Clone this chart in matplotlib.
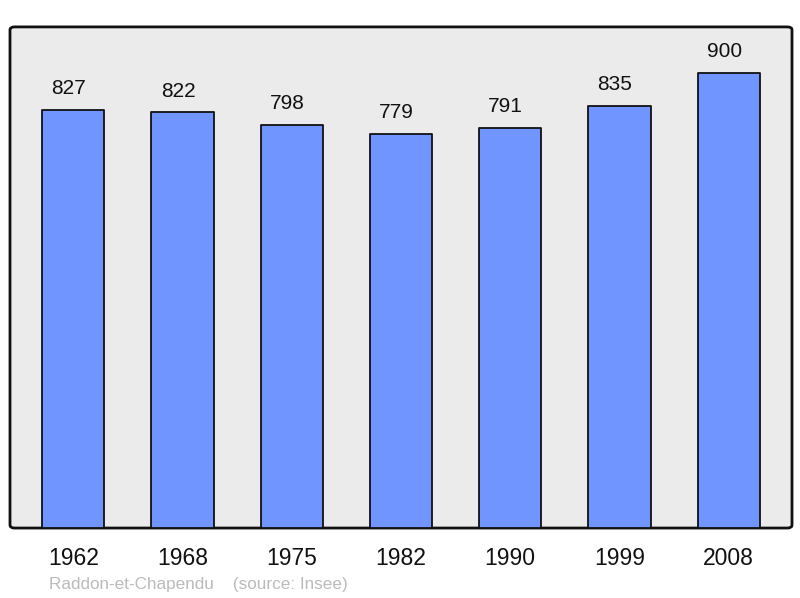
import matplotlib.pyplot as plt
from matplotlib.patches import FancyBboxPatch

years = ['1962', '1968', '1975', '1982', '1990', '1999', '2008']
population = [827, 822, 798, 779, 791, 835, 900]
commune = 'Raddon-et-Chapendu'
source = '(source: Insee)'

plt.rcParams['font.family'] = ['Liberation Sans', 'DejaVu Sans']

fig = plt.figure(figsize=(8, 5.98), dpi=100)
ax = fig.add_axes([0.0125, 0.117, 0.9775, 0.838])
ax.set_facecolor('none')

# fond gris avec coins arrondis
bg = FancyBboxPatch((0, 0), 1, 1, boxstyle='round,pad=0,rounding_size=0.006',
                    transform=ax.transAxes, facecolor='#ebebeb',
                    edgecolor='#111111', linewidth=2, zorder=0, clip_on=False)
ax.add_patch(bg)

x = range(len(years))
bars = ax.bar(x, population, width=0.57, color='#7095ff', edgecolor='#111111',
              linewidth=1.3, zorder=2)
for b in bars:
    b.set_joinstyle('round')

for xi, v in zip(x, population):
    ax.annotate(str(v), (xi, v), xytext=(-3.3, 8.5), textcoords='offset points',
                ha='center', va='bottom', fontsize=15, color='#111111')

ax.set_xlim(-0.58, 6.58)
ax.set_ylim(0, 991)
ax.set_xticks(list(x))
ax.set_xticklabels(years, fontsize=16.5, color='#111111')
ax.tick_params(axis='x', length=0, pad=13.5)
ax.set_yticks([])
for s in ax.spines.values():
    s.set_visible(False)

fig.text(49 / 800, 1 - 584 / 598, commune + '    ' + source, fontsize=12.3,
         color='#bbbbbb', ha='left', va='center')

fig.savefig('out.png', dpi=100)
